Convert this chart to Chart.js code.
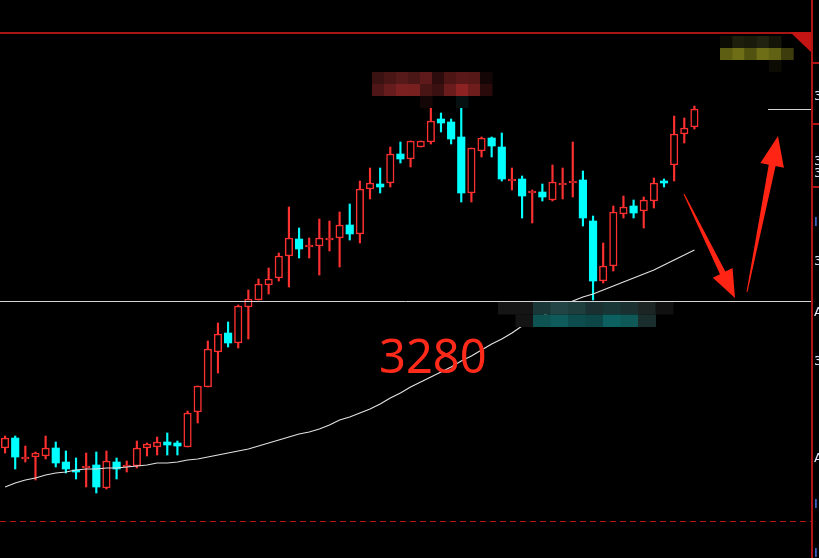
<!DOCTYPE html>
<html>
<head>
<meta charset="utf-8">
<script src="https://cdn.jsdelivr.net/npm/chart.js@4.4.1/dist/chart.umd.min.js"></script>
<style>
  html, body { margin: 0; padding: 0; background: #000; }
  #wrap { width: 819px; height: 558px; }
</style>
</head>
<body>
<div id="wrap"><canvas id="chart" width="819" height="558"></canvas></div>
<script>
// K线数据 (从截图读取的估计值)
const opens = [3206.5, 3211.5, 3201, 3202, 3202.5, 3206.5, 3199.5, 3195.5, 3196.5, 3198,
  3186.5, 3199.5, 3197, 3197.5, 3206.5, 3207, 3209.5, 3209, 3207, 3224.5,
  3237, 3254.5, 3264, 3259, 3277, 3280.5, 3288, 3291.5, 3302.5, 3311,
  3307, 3307.5, 3310.5, 3311.5, 3318, 3313.5, 3336, 3338.5, 3339, 3353.5,
  3351, 3357, 3359.5, 3371, 3369.5, 3362, 3334, 3355, 3361.5, 3357,
  3340, 3341, 3334, 3334.5, 3330.5, 3338, 3339, 3340.5, 3320, 3290,
  3297.5, 3323.5, 3327.5, 3325, 3330, 3340, 3348, 3363.5, 3367];
const highs = [3212.5, 3212.5, 3207.5, 3204.5, 3212.5, 3209.5, 3205, 3201.5, 3204, 3204.5,
  3205, 3201.5, 3200, 3210, 3209, 3212, 3214, 3210, 3225, 3237.5,
  3260, 3269, 3269.5, 3278, 3285.5, 3291, 3296.5, 3304, 3327, 3316.5,
  3311.5, 3321, 3320, 3324.5, 3328.5, 3340, 3346.5, 3346.5, 3357, 3359.5,
  3360, 3360, 3377, 3374, 3371, 3377, 3356.5, 3362, 3362, 3364,
  3346.5, 3342.5, 3335.5, 3338.5, 3348, 3346.5, 3359.5, 3345, 3322.5, 3309,
  3327.5, 3332.5, 3330.5, 3332, 3341.5, 3341, 3372.5, 3371.5, 3377.5];
const lows = [3204, 3196, 3199.5, 3190.5, 3201, 3197, 3194, 3191, 3187, 3184,
  3186, 3191, 3194.5, 3196.5, 3202.5, 3203, 3203, 3203, 3207, 3219,
  3237, 3244, 3257, 3256.5, 3261, 3280.5, 3283.5, 3290, 3287, 3301.5,
  3301.5, 3293, 3305, 3297, 3310.5, 3309, 3331, 3334, 3337, 3349,
  3347, 3357, 3358.5, 3364.5, 3358.5, 3329.5, 3329.5, 3352, 3352, 3340,
  3335.5, 3321.5, 3319, 3330, 3330, 3331, 3332, 3317.5, 3280.5, 3289,
  3295, 3321.5, 3321.5, 3316.5, 3326.5, 3337, 3340, 3359, 3366];
const closes = [3211.5, 3202, 3202, 3204, 3206.5, 3199, 3196, 3194.5, 3197.5, 3187,
  3200, 3196, 3197.5, 3206.5, 3208.5, 3209.5, 3208, 3207.5, 3224, 3237.5,
  3256, 3263.5, 3259, 3277.5, 3281, 3288.5, 3291, 3302.5, 3311.5, 3306,
  3307.5, 3311.5, 3311.5, 3318, 3313.5, 3336, 3339, 3337, 3353.5, 3351,
  3360, 3360, 3370, 3369, 3361, 3334, 3356.5, 3361.5, 3357.5, 3341,
  3341, 3332.5, 3335, 3332, 3339.5, 3339, 3339.5, 3321.5, 3290, 3297.5,
  3324.5, 3327, 3324, 3330.5, 3339, 3339, 3363.5, 3366.5, 3376];
// 均线
const maLine = [3187, 3189, 3190.5, 3191.5, 3193, 3194, 3194.5, 3195.5, 3196, 3196,
  3196.5, 3196.5, 3197, 3197.5, 3198, 3199, 3199, 3199.5, 3200.5, 3201,
  3202, 3203, 3204, 3205, 3206, 3207.5, 3209, 3210.5, 3212, 3213.5,
  3214.5, 3216, 3218, 3220.5, 3222, 3224, 3226, 3228.5, 3231.5, 3234,
  3237, 3239.5, 3242, 3244.5, 3247, 3250, 3252.5, 3255.5, 3258.5, 3261,
  3264, 3267.5, 3270, 3272.5, 3275, 3277.5, 3280, 3282, 3283.5, 3285.5,
  3287.5, 3289.5, 3291.5, 3293.5, 3295.5, 3298, 3300.5, 3303, 3305.5];
// 80 个K线位置 (右侧留空)
const slotLabels = Array.from({ length: 80 }, (_, i) => String(i + 1));
const supportLevel = 3280;
const supportText = '3280';
const topLevel = 3414;
const bottomLevel = 3170;
const lastPriceLevel = 3376;
const priceMin = 3151.5;
const priceMax = 3430.5;

const RED = '#ff3030';
const CYAN = '#00ffff';

const isUp = opens.map((o, i) => closes[i] >= o);
const bodyData = opens.map((o, i) => [Math.min(o, closes[i]), Math.max(o, closes[i])]);
const wickData = lows.map((l, i) => [l, highs[i]]);

// 背景、标注、马赛克、箭头
const decoPlugin = {
  id: 'deco',
  beforeDraw(chart) {
    const ctx = chart.ctx;
    ctx.save();
    ctx.fillStyle = '#000';
    ctx.fillRect(0, 0, chart.width, chart.height);
    ctx.restore();
  },
  afterDatasetsDraw(chart) {
    const ctx = chart.ctx;
    const y = chart.scales.y;
    const area = chart.chartArea;
    ctx.save();

    // 3280 水平线
    const ySup = Math.round(y.getPixelForValue(supportLevel)) + 0.5;
    ctx.strokeStyle = '#d4d4d4';
    ctx.lineWidth = 1;
    ctx.beginPath();
    ctx.moveTo(area.left, ySup);
    ctx.lineTo(area.right, ySup);
    ctx.stroke();

    // 最新价短线
    const yLast = Math.round(y.getPixelForValue(lastPriceLevel)) + 0.5;
    ctx.beginPath();
    ctx.moveTo(768, yLast);
    ctx.lineTo(area.right, yLast);
    ctx.stroke();

    // 顶部红线
    const yTop = Math.round(y.getPixelForValue(topLevel));
    ctx.fillStyle = '#a81515';
    ctx.fillRect(0, yTop - 1, area.right, 2);

    // 底部红色虚线
    const yBot = Math.round(y.getPixelForValue(bottomLevel)) + 0.5;
    ctx.strokeStyle = '#b81414';
    ctx.setLineDash([6, 4]);
    ctx.beginPath();
    ctx.moveTo(0, yBot);
    ctx.lineTo(area.right, yBot);
    ctx.stroke();
    ctx.setLineDash([]);

    // 右上角三角
    ctx.fillStyle = '#c41414';
    ctx.beginPath();
    ctx.moveTo(790, yTop - 1);
    ctx.lineTo(area.right, yTop - 1);
    ctx.lineTo(area.right, yTop + 19);
    ctx.closePath();
    ctx.fill();

    // 右侧坐标区
    ctx.fillStyle = '#b01414';
    ctx.fillRect(area.right, 0, 2, chart.height);
    [62, 123, 186].forEach(py => ctx.fillRect(area.right, py, 8, 2));
    ctx.font = '13px "DejaVu Sans"';
    ctx.textBaseline = 'alphabetic';
    const axisGlyphs = [[100, '3', '#e8e8ff'], [165, '3', '#e8e8ff'], [177, '3', '#e8e8ff'],
      [226, 'I', '#5080ff'], [265, '3', '#e8e8ff'], [316, 'A', '#e8e8ff'], [365, '3', '#e8e8ff'],
      [462, 'A', '#e8e8ff'], [508, 'I', '#5080ff'], [557, 'I', '#5080ff']];
    axisGlyphs.forEach(([py, t, c]) => { ctx.fillStyle = c; ctx.fillText(t, area.right + 3, py); });

    // 马赛克遮挡
    const mosaic = (x0, y0, w, h, rows) => {
      rows.forEach((row, r) => row.forEach((c, k) => {
        if (!c) return;
        ctx.fillStyle = c;
        ctx.fillRect(x0 + k * w, y0 + r * h, w + 0.5, h);
      }));
    };
    mosaic(372, 72, 12, 12, [
      ['#3a1212', '#4a1515', '#561a1a', '#4a1616', '#5e1a1a', '#2c0c0c', '#4e1515', '#5a1818', '#561717', '#140606'],
      ['#4e1616', '#661c1c', '#7a2020', '#782020', '#481414', '#3a1010', '#6a1c1c', '#8c2222', '#6e1c1c', '#2a0a0a'],
      [null, null, null, null, '#140606', null, null, '#061010', null, null]
    ]);
    mosaic(720, 36, 12.2, 12, [
      ['#0c0c04', '#1e1e0c', '#1a1a0a', '#222210', '#141408', null],
      ['#5e5e12', '#6e6e16', '#525210', '#6e6e16', '#626214', '#3c3c0c'],
      [null, null, null, null, '#0c0c04', null]
    ]);
    mosaic(498, 302, 17.5, 12.5, [
      ['#151515', '#151515', '#1a3636', '#224444', '#1e3e3e', '#1a3030', '#183636', '#1a3030', '#1c2424', '#101010'],
      [null, '#141414', '#0e5252', '#0f5a5a', '#0c4c4c', '#0c4646', '#0d6060', '#0e5858', '#1a2e2e', null]
    ]);

    // 3280 文字
    ctx.fillStyle = '#ff2a1a';
    ctx.font = '47px "Noto Sans", sans-serif';
    ctx.textBaseline = 'alphabetic';
    ctx.fillText(supportText, 379, 373);

    // 红色箭头
    const arrow = (x0, y0, x1, y1, tailW, neckW, headL, headW) => {
      const dx = x1 - x0, dy = y1 - y0;
      const len = Math.hypot(dx, dy);
      const ux = dx / len, uy = dy / len, nx = -uy, ny = ux;
      const bx = x1 - ux * headL, by = y1 - uy * headL;
      ctx.fillStyle = '#ff2414';
      ctx.beginPath();
      ctx.moveTo(x0 + nx * tailW / 2, y0 + ny * tailW / 2);
      ctx.lineTo(bx + nx * neckW / 2, by + ny * neckW / 2);
      ctx.lineTo(bx + nx * headW / 2, by + ny * headW / 2);
      ctx.lineTo(x1, y1);
      ctx.lineTo(bx - nx * headW / 2, by - ny * headW / 2);
      ctx.lineTo(bx - nx * neckW / 2, by - ny * neckW / 2);
      ctx.lineTo(x0 - nx * tailW / 2, y0 - ny * tailW / 2);
      ctx.closePath();
      ctx.fill();
    };
    arrow(684, 194, 735, 298, 1, 6, 28, 22);
    arrow(747, 292, 778, 136, 1, 7, 30, 24);

    ctx.restore();
  }
};

new Chart(document.getElementById('chart'), {
  type: 'bar',
  data: {
    labels: slotLabels,
    datasets: [
      {
        type: 'line',
        data: maLine,
        borderColor: '#e0e0e0',
        borderWidth: 1.2,
        pointRadius: 0,
        tension: 0,
        order: 0
      },
      {
        data: bodyData,
        backgroundColor: isUp.map(u => u ? '#000' : CYAN),
        borderColor: isUp.map(u => u ? RED : CYAN),
        borderWidth: isUp.map(u => u ? 1.5 : 0),
        borderSkipped: false,
        barThickness: 7.5,
        minBarLength: 2,
        grouped: false,
        order: 1
      },
      {
        data: wickData,
        backgroundColor: isUp.map(u => u ? RED : CYAN),
        borderWidth: 0,
        barThickness: 1.5,
        grouped: false,
        order: 2
      }
    ]
  },
  options: {
    responsive: false,
    animation: false,
    layout: { padding: { left: 0, right: 8, top: 0, bottom: 0 } },
    plugins: { legend: { display: false }, tooltip: { enabled: false } },
    scales: {
      x: { display: false, offset: true },
      y: { display: false, min: priceMin, max: priceMax }
    }
  },
  plugins: [decoPlugin]
});
</script>
</body>
</html>
